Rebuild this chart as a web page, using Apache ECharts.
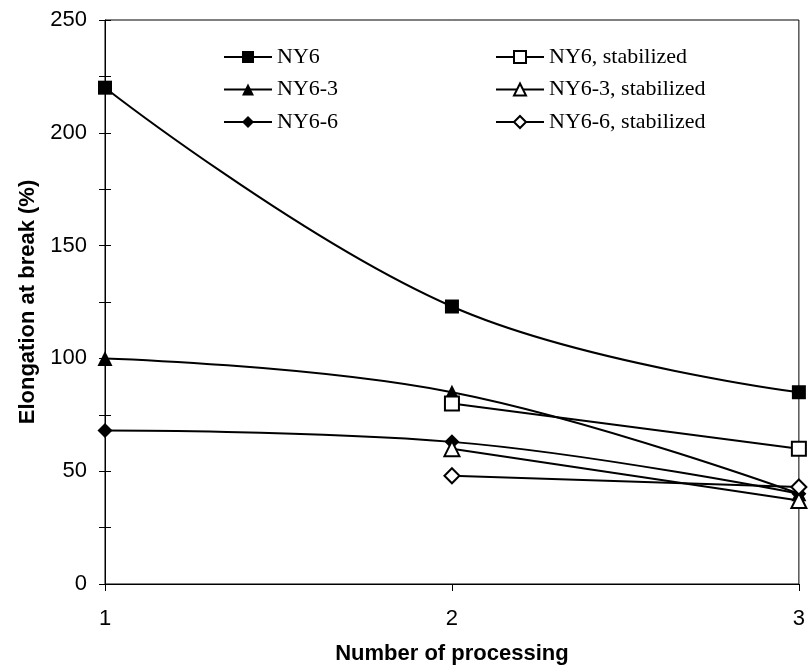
<!DOCTYPE html>
<html>
<head>
<meta charset="utf-8">
<script src="https://cdn.jsdelivr.net/npm/echarts@6/dist/echarts.min.js"></script>
<style>
  html, body { margin: 0; padding: 0; background: #fff; }
  #chart { width: 808px; height: 670px; }
</style>
</head>
<body>
<div id="chart"></div>
<script>
// number of processing passes
const processNo = [1, 2, 3]
// elongation at break (%), null = not measured
const ny6 = [220, 123, 85]
const ny6_3 = [100, 85, 40]
const ny6_6 = [68, 63, 40]
const ny6Stab = [null, 80, 60]
const ny6_3Stab = [null, 60, 37]
const ny6_6Stab = [null, 48, 43]
const yTicks = [0, 50, 100, 150, 200, 250]

function pairs(vals) {
    return processNo.map((x, i) => [x, vals[i]]).filter(p => p[1] != null)
}

function mkSeries(name, vals, symbol, filled) {
    return {
        name: name,
        type: 'line',
        data: pairs(vals),
        smooth: 0.4,
        symbol: symbol,
        symbolSize: symbol === 'rect' ? 14 : 15,
        lineStyle: { color: '#000', width: 2 },
        itemStyle: { color: filled ? '#000' : '#fff', borderColor: '#000', borderWidth: filled ? 0 : 2 },
        emphasis: { disabled: true }
    }
}

const chart = echarts.init(document.getElementById('chart'))
const legendText = { fontFamily: 'Liberation Serif', fontSize: 22, color: '#000' }
const sans = 'Liberation Sans'

chart.setOption({
    animation: false,
    grid: { left: 105, right: 9, top: 20, bottom: 85, show: true, borderColor: '#000', borderWidth: 1 },
    legend: [
        { data: ['NY6', 'NY6-3', 'NY6-6'], orient: 'vertical', left: 218, top: 41,
          itemWidth: 48, itemHeight: 15, itemGap: 10.5, textStyle: legendText, selectedMode: false },
        { data: ['NY6, stabilized', 'NY6-3, stabilized', 'NY6-6, stabilized'], orient: 'vertical', left: 490, top: 41,
          itemWidth: 48, itemHeight: 15, itemGap: 10.5, textStyle: legendText, selectedMode: false }
    ],
    xAxis: {
        type: 'value', min: 1, max: 3, interval: 1,
        name: 'Number of processing', nameLocation: 'middle', nameGap: 59,
        nameTextStyle: { fontFamily: sans, fontSize: 22, fontWeight: 'bold', color: '#000' },
        axisLine: { lineStyle: { color: '#000', width: 1 } },
        axisTick: { show: true, length: 7, lineStyle: { color: '#000' } },
        axisLabel: { margin: 24, fontFamily: sans, fontSize: 22, color: '#000' },
        splitLine: { show: false }
    },
    yAxis: [
        {
            type: 'value', min: 0, max: 250, interval: 25,
            name: 'Elongation at break (%)', nameLocation: 'middle', nameGap: 64,
            nameTextStyle: { fontFamily: sans, fontSize: 22, fontWeight: 'bold', color: '#000' },
            axisLine: { show: true, lineStyle: { color: '#000', width: 1 } },
            axisTick: { show: true, length: 6, lineStyle: { color: '#000' } },
            axisLabel: {
                margin: 18, fontFamily: sans, fontSize: 22, color: '#000',
                formatter: v => yTicks.includes(v) ? String(v) : ''
            },
            splitLine: { show: false }
        },
        {
            // inner half of the crossing ticks
            type: 'value', min: 0, max: 250, interval: 25, position: 'left',
            axisLine: { show: false },
            axisTick: { show: true, inside: true, length: 6, lineStyle: { color: '#000' } },
            axisLabel: { show: false },
            splitLine: { show: false }
        }
    ],
    series: [
        mkSeries('NY6', ny6, 'rect', true),
        mkSeries('NY6-3', ny6_3, 'triangle', true),
        mkSeries('NY6-6', ny6_6, 'diamond', true),
        mkSeries('NY6, stabilized', ny6Stab, 'rect', false),
        mkSeries('NY6-3, stabilized', ny6_3Stab, 'triangle', false),
        mkSeries('NY6-6, stabilized', ny6_6Stab, 'diamond', false)
    ]
})
</script>
</body>
</html>
